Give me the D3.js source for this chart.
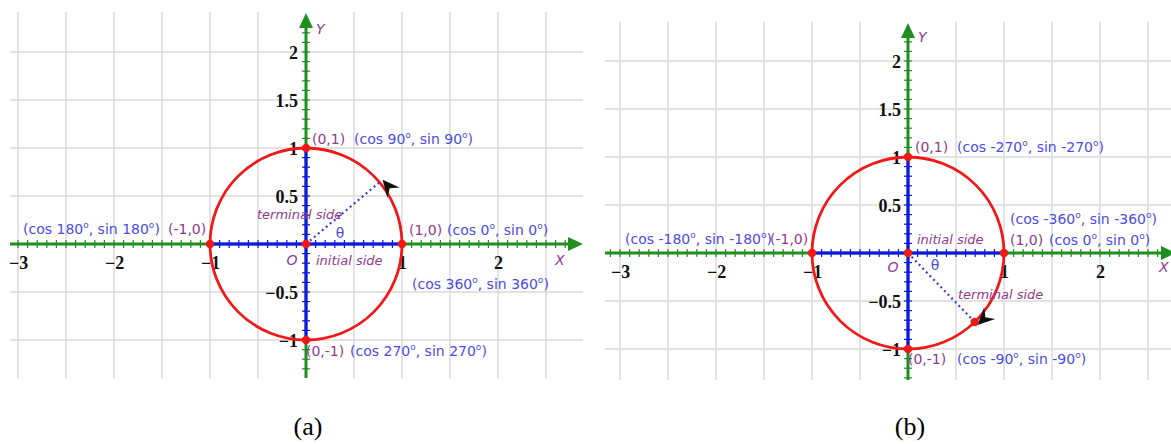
<!DOCTYPE html>
<html>
<head>
<meta charset="utf-8">
<script src="https://cdn.jsdelivr.net/npm/d3@7"></script>
<style>
  body { margin: 0; background: #fff; }
  svg { display: block; }
</style>
</head>
<body>
<script>
var width = 1171
var height = 444

// data: ticks, grid, unit-circle points and the labels
var xTicks = [-3, -2, -1, 1, 2];
var yTicks = [2, 1.5, 1, 0.5, -0.5, -1];
var gridX = [-3, -2.5, -2, -1.5, -1, -0.5, 0.5, 1, 1.5, 2, 2.5];
var gridY = [-1, -0.5, 0.5, 1, 1.5, 2];
var unitPoints = [[0, 1], [-1, 0], [1, 0], [0, -1]];
var pointNames = ["(0,1)", "(-1,0)", "(1,0)", "(0,-1)"];
// last label of each list belongs to (1,0) again
var anglesA = ["(cos 90º, sin 90º)", "(cos 180º, sin 180º)", "(cos 0º, sin 0º)", "(cos 270º, sin 270º)", "(cos 360º, sin 360º)"];
var anglesB = ["(cos -270º, sin -270º)", "(cos -180º, sin -180º)", "(cos 0º, sin 0º)", "(cos -90º, sin -90º)", "(cos -360º, sin -360º)"];
var angleAt = [0, 1, 2, 3, 2];
var thetaA = 40;
var thetaB = -46;
var captions = ["(a)", "(b)"];

var green = "#1f8f1f", blue = "#1414f0", red = "#f01818";
var textBlue = "#4b4be6", purple = "#8e3a8e";

var svg = d3.select("body").append("svg")
    .attr("width", width)
    .attr("height", height)

// write a label, turning each º into a raised small "o"
function degText(sel, str) {
  var parts = str.split("º");
  parts.forEach(function(p, i) {
    sel.append("tspan").attr("dy", i > 0 ? 6 : null).text(p);
    if (i < parts.length - 1) {
      sel.append("tspan").attr("dy", -6).style("font-size", "9px").text("o");
    }
  });
}

function panel(cfg) {
  var g = svg.append("g");
  var x = d3.scaleLinear().domain([-3, 2]).range([cfg.ox - 288, cfg.ox + 192]);
  var y = d3.scaleLinear().domain([-1, 2]).range([cfg.oy + 96, cfg.oy - 192]);
  var x0 = x(0), y0 = y(0);

  // grid
  g.selectAll(".gx").data(gridX).enter().append("line")
      .attr("x1", d => x(d)).attr("x2", d => x(d))
      .attr("y1", cfg.top).attr("y2", cfg.bottom)
      .attr("stroke", "#dadada").attr("stroke-width", 1.5)
  g.selectAll(".gy").data(gridY).enter().append("line")
      .attr("y1", d => y(d)).attr("y2", d => y(d))
      .attr("x1", cfg.left).attr("x2", cfg.right)
      .attr("stroke", "#dadada").attr("stroke-width", 1.5)

  // axes: green with blue part inside the unit circle
  g.append("line").attr("x1", cfg.left).attr("x2", cfg.right - 8)
      .attr("y1", y0).attr("y2", y0).attr("stroke", green).attr("stroke-width", 3)
  g.append("line").attr("x1", x0).attr("x2", x0)
      .attr("y1", cfg.top + 8).attr("y2", cfg.bottom).attr("stroke", green).attr("stroke-width", 3)
  g.append("line").attr("x1", x(-1)).attr("x2", x(1))
      .attr("y1", y0).attr("y2", y0).attr("stroke", blue).attr("stroke-width", 3)
  g.append("line").attr("x1", x0).attr("x2", x0)
      .attr("y1", y(1)).attr("y2", y(-1)).attr("stroke", blue).attr("stroke-width", 3)

  // small ticks every 0.1
  var xs = d3.range(Math.ceil(x.invert(cfg.left) * 10), Math.floor(x.invert(cfg.right - 12) * 10) + 1).map(d => d / 10);
  var ys = d3.range(Math.ceil(y.invert(cfg.bottom) * 10), Math.floor(y.invert(cfg.top + 14) * 10) + 1).map(d => d / 10);
  g.selectAll(".tx").data(xs).enter().append("line")
      .attr("x1", d => x(d)).attr("x2", d => x(d))
      .attr("y1", y0 - 4).attr("y2", y0 + 4)
      .attr("stroke", d => Math.abs(d) <= 1.001 ? blue : green).attr("stroke-width", 1.2)
  g.selectAll(".ty").data(ys).enter().append("line")
      .attr("y1", d => y(d)).attr("y2", d => y(d))
      .attr("x1", x0 - 4).attr("x2", x0 + 4)
      .attr("stroke", d => Math.abs(d) <= 1.001 ? blue : green).attr("stroke-width", 1.2)

  // arrow heads of the axes
  g.append("path")
      .attr("d", "M" + x0 + "," + (cfg.top + 1) + "L" + (x0 - 7) + "," + (cfg.top + 16) + "L" + (x0 + 7) + "," + (cfg.top + 16) + "Z")
      .attr("fill", green)
  g.append("path")
      .attr("d", "M" + cfg.right + "," + y0 + "L" + (cfg.right - 15) + "," + (y0 - 7) + "L" + (cfg.right - 15) + "," + (y0 + 7) + "Z")
      .attr("fill", green)

  // tick labels
  var fmt = d => d < 0 ? "\u2212" + (-d) : "" + d;
  var ax = g.append("g").attr("transform", "translate(0," + y0 + ")")
      .call(d3.axisBottom(x).tickValues(xTicks).tickSize(0).tickFormat(fmt))
  var ay = g.append("g").attr("transform", "translate(" + x0 + ",0)")
      .call(d3.axisLeft(y).tickValues(yTicks).tickSize(0).tickPadding(cfg.ypad).tickFormat(fmt))
  ax.select(".domain").remove();
  ay.select(".domain").remove();
  ax.selectAll("text").attr("y", 25).attr("dy", null)
  ay.selectAll("text").attr("dy", "0.36em")
  g.selectAll(".tick text")
      .attr("fill", "#111")
      .style("font-family", "'Liberation Serif', serif")
      .style("font-weight", "bold")
      .style("font-size", "18px")

  // unit circle
  var r = x(1) - x0;
  g.append("circle").attr("cx", x0).attr("cy", y0).attr("r", r)
      .attr("fill", "none").attr("stroke", red).attr("stroke-width", 2.8)

  // terminal side
  var t = cfg.theta * Math.PI / 180;
  var px = x(Math.cos(t)), py = y(Math.sin(t));
  g.append("line").attr("x1", x0).attr("y1", y0).attr("x2", px).attr("y2", py)
      .attr("stroke", "#3c3cd6").attr("stroke-width", 2.2).attr("stroke-dasharray", "2,3.2")

  // rotation arrow, tangent to the circle
  var dir = cfg.theta > 0 ? [-Math.sin(t), -Math.cos(t)] : [Math.sin(t), Math.cos(t)];
  var ang = Math.atan2(dir[1], dir[0]) * 180 / Math.PI;
  var out = [Math.cos(t) * 4, -Math.sin(t) * 4];
  g.append("path")
      .attr("d", "M0,0L-17,-8L-11,0L-17,8Z")
      .attr("transform", "translate(" + (px + out[0]) + "," + (py + out[1]) + ") rotate(" + ang + ")")
      .attr("fill", "#111")

  // red points
  var dots = unitPoints.concat([[0, 0]]);
  if (cfg.dotEnd) dots.push([Math.cos(t), Math.sin(t)]);
  g.selectAll(".dot").data(dots).enter().append("circle")
      .attr("cx", d => x(d[0])).attr("cy", d => y(d[1])).attr("r", 4.2)
      .attr("fill", red)

  // labels next to the points
  function label(txt, pos, color, italic, size) {
    var t = g.append("text")
        .attr("x", pos[0]).attr("y", pos[1])
        .attr("fill", color)
        .attr("text-anchor", pos[2] || "start")
        .style("font-family", "'DejaVu Sans', Verdana, sans-serif")
        .style("font-size", (size || 14) + "px")
        .style("font-style", italic ? "italic" : "normal")
    degText(t, txt);
  }
  unitPoints.forEach(function(p, i) {
    var o = cfg.nameOff[i];
    label(pointNames[i], [x(p[0]) + o[0], y(p[1]) + o[1]], purple);
  });
  cfg.angles.forEach(function(a, i) {
    var p = unitPoints[angleAt[i]];
    var o = cfg.angleOff[i];
    label(a, [x(p[0]) + o[0], y(p[1]) + o[1]], textBlue);
  });
  label("θ", [x0 + cfg.thetaOff[0], y0 + cfg.thetaOff[1], "middle"], textBlue);
  label("initial side", [x0 + cfg.initOff[0], y0 + cfg.initOff[1]], purple, true, 13);
  label("terminal side", [x0 + cfg.termOff[0], y0 + cfg.termOff[1]], purple, true, 13);
  label("O", [x0 + cfg.oOff[0], y0 + cfg.oOff[1], "middle"], purple, true, 14);
  label("X", [cfg.xLab[0], y0 + cfg.xLab[1]], purple, true, 14);
  label("Y", [x0 + 10, cfg.yLab], purple, true, 14);

  // caption
  g.append("text").attr("x", x0 + 2).attr("y", 435)
      .attr("text-anchor", "middle")
      .style("font-family", "'Liberation Serif', serif")
      .style("font-size", "26px")
      .text(cfg.caption)
}

panel({
  ox: 306, oy: 244, left: 10, right: 583, top: 12, bottom: 378, ypad: 8,
  theta: thetaA, dotEnd: false, angles: anglesA, caption: captions[0],
  nameOff: [[6, -4], [-42, -10], [7, -9], [0, 16]],
  angleOff: [[48, -4], [-187, -10], [45, -9], [44, 16], [10, 45]],
  thetaOff: [34, -6], initOff: [10, 21], termOff: [-49, -25], oOff: [-14, 21],
  xLab: [555, 21], yLab: 34
});

panel({
  ox: 908, oy: 253, left: 605, right: 1176, top: 22, bottom: 380, ypad: 7,
  theta: thetaB, dotEnd: true, angles: anglesB, caption: captions[1],
  nameOff: [[7, -5], [-42, -9], [6, -8], [0, 15]],
  angleOff: [[49, -5], [-187, -9], [45, -8], [49, 15], [6, -29]],
  thetaOff: [27, 17], initOff: [9, -9], termOff: [50, 46], oOff: [-15, 19],
  xLab: [1159, 19], yLab: 42
});
</script>
</body>
</html>
